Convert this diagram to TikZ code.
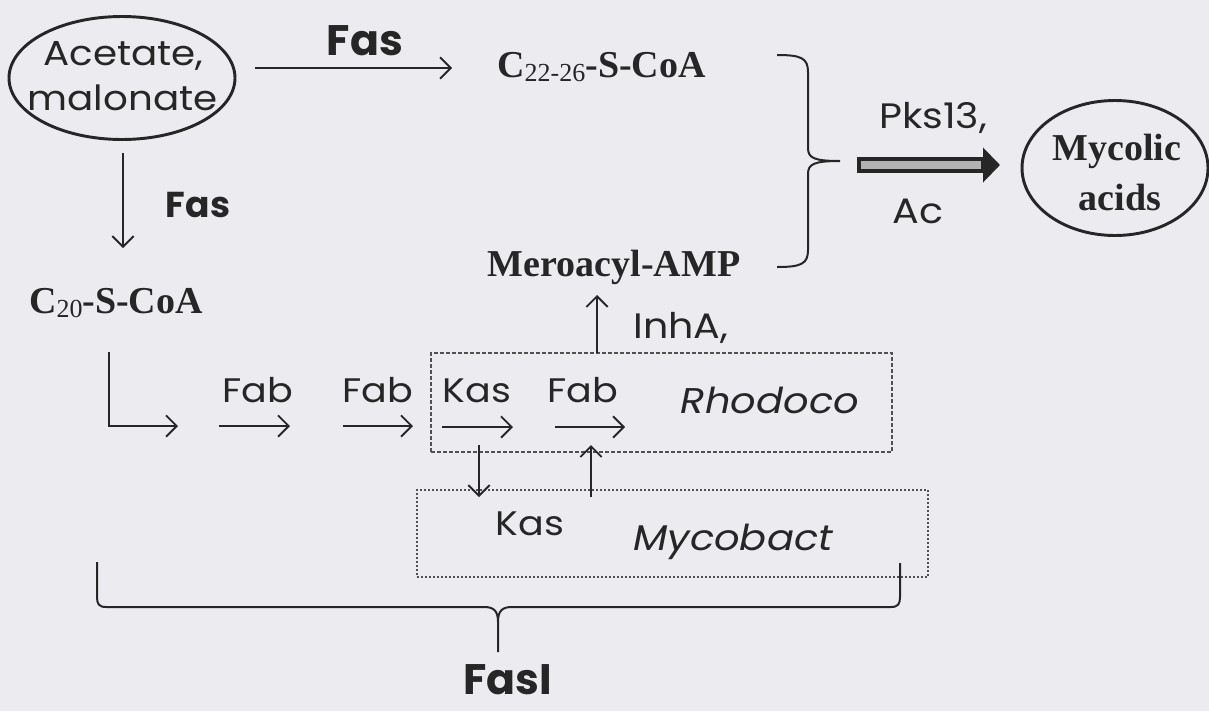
\documentclass[tikz,border=0pt]{standalone}
\usepackage{fontspec}
\setmainfont{Liberation Serif}
\newfontfamily\gothic[FakeStretch=1.12]{Poppins}
\newfontfamily\gothicbold{Poppins}
\usetikzlibrary{arrows.meta,shapes.geometric}
\definecolor{bg}{RGB}{236,236,240}
\definecolor{ink}{RGB}{38,38,38}
\newcommand\sub[1]{\raisebox{-3.5pt}{\fontsize{19.5}{20}\selectfont\mdseries #1}}
\begin{document}
\begin{tikzpicture}[x=0.75pt,y=-0.75pt,
  arr/.style={draw=ink, line width=1.4pt, -{Straight Barb[length=8pt,width=16pt]}},
  brace/.style={draw=ink, line width=1.5pt},
  txt/.style={text=ink, inner sep=0pt, anchor=base},
  sansA/.style={txt, font=\gothic\fontsize{26}{29}\selectfont},
  sansB/.style={txt, font=\gothic\fontsize{25.5}{28}\selectfont},
  sansC/.style={txt, font=\gothic\fontsize{26.5}{29}\selectfont},
  ital/.style={txt, font=\gothic\itshape\fontsize{26.8}{30}\selectfont},
  fasbig/.style={txt, font=\gothicbold\bfseries\fontsize{32}{36}\selectfont},
  fasmid/.style={txt, font=\gothicbold\bfseries\fontsize{27}{30}\selectfont},
  serifb/.style={txt, font=\bfseries\fontsize{28.5}{32}\selectfont},
  ring/.style={ellipse, draw=ink, line width=2.2pt, inner sep=0pt},
  dashbox/.style={draw=ink!80, line width=1.1pt, dash pattern=on 3pt off 1.5pt, inner sep=0pt},
  dotbox/.style={draw=ink!80, line width=1.1pt, dash pattern=on 1.2pt off 1.8pt, inner sep=0pt}
]
\path[use as bounding box, fill=bg] (0,0) rectangle (1209,711);

% Acetate, malonate
\node[ring, minimum width=169.5pt, minimum height=92.25pt] (acet) at (122,78) {};
\node[sansA] (acetA) at (123.5,65) {Acetate,};
\node[sansA] (acetB) at (122.5,110) {malonate};

% top Fas arrow
\node[fasbig] (fasA) at (365,55) {Fas};
\coordinate (a1s) at (255,68);
\coordinate (a1e) at (452,68);
\draw[arr] (a1s) -- (a1e);
\node[serifb] (c2226) at (601.5,77) {C\sub{22-26}-S-CoA};

% right brace
\coordinate (btip) at (840,161);
\draw[brace] (777,55) .. controls (801,55) and (808,58) .. (808,72) -- (808,148)
  .. controls (808,158) and (814,161) .. (btip)
  .. controls (814,161) and (808,164) .. (808,174) -- (808,250)
  .. controls (808,264) and (801,267) .. (777,267);

% thick arrow
\coordinate (ta1) at (857,165);
\coordinate (ta2) at (1000,165);
\draw[draw=ink, line width=12pt, -{Triangle[length=12.75pt 0, width=25.5pt 0]}] (ta1) -- (ta2);
\draw[draw=black!30, line width=6.5pt] (861,165) -- (981,165);
\node[sansC] (pks) at (933,128) {Pks13,};
\node[sansC] (ac) at (918,223) {Ac};

% Mycolic acids
\node[ring, minimum width=139.5pt, minimum height=101.25pt] (myc) at (1115,168) {};
\node[serifb] (mycA) at (1117,160) {Mycolic};
\node[serifb] (mycB) at (1120,210) {acids};

% left column
\coordinate (d1s) at (123,153);
\coordinate (d1e) at (123,248);
\draw[arr] (d1s) -- (d1e);
\node[fasmid] (fasB) at (198,217) {Fas};
\node[serifb] (c20) at (116,313) {C\sub{20}-S-CoA};

% chain
\coordinate (e1) at (109,352);
\coordinate (e2) at (109,426);
\coordinate (e3) at (178,426);
\draw[arr] (e1) -- (e2) -- (e3);
\coordinate (f1s) at (219,426);
\coordinate (f1e) at (290,426);
\draw[arr] (f1s) -- (f1e);
\node[sansB] (fab1) at (258,402) {Fab};
\coordinate (f2s) at (343,426);
\coordinate (f2e) at (413,426);
\draw[arr] (f2s) -- (f2e);
\node[sansB] (fab2) at (378,402) {Fab};

% Rhodoco box
\node[dashbox, minimum width=345.75pt, minimum height=74.25pt] (rbox) at (661.5,402.5) {};
\coordinate (k1s) at (442,427);
\coordinate (k1e) at (513,427);
\draw[arr] (k1s) -- (k1e);
\node[sansB] (kas1) at (477,402) {Kas};
\coordinate (f3s) at (555,427);
\coordinate (f3e) at (625,427);
\draw[arr] (f3s) -- (f3e);
\node[sansB] (fab3) at (583,402) {Fab};
\node[ital] (rhodo) at (770,413) {Rhodoco};

% Meroacyl
\node[serifb] (mero) at (614,276) {Meroacyl-AMP};
\coordinate (u1s) at (597,353);
\coordinate (u1e) at (597,295);
\draw[arr] (u1s) -- (u1e);
\node[sansC] (inha) at (681,338) {InhA,};

% Mycobact box
\node[dotbox, minimum width=383.25pt, minimum height=65.25pt] (mbox) at (672.5,533.5) {};
\coordinate (v1s) at (479,445);
\coordinate (v1e) at (479,497);
\draw[arr] (v1s) -- (v1e);
\coordinate (v2s) at (591,497);
\coordinate (v2e) at (591,445);
\draw[arr] (v2s) -- (v2e);
\node[sansB] (kas2) at (530,535) {Kas};
\node[ital] (mycot) at (733,550) {Mycobact};

% bottom brace
\coordinate (bbtip) at (498,652);
\draw[brace] (97,562) -- (97,597) .. controls (97,604) and (99,607) .. (106,607) -- (484,607)
  .. controls (494,607) and (498,611) .. (498,622) -- (bbtip);
\draw[brace] (498,622) .. controls (498,611) and (502,607) .. (512,607) -- (891,607)
  .. controls (898,607) and (900,604) .. (900,597) -- (900,563);
\node[fasbig] (fasI) at (508,694) {FasI};
\end{tikzpicture}
\end{document}
